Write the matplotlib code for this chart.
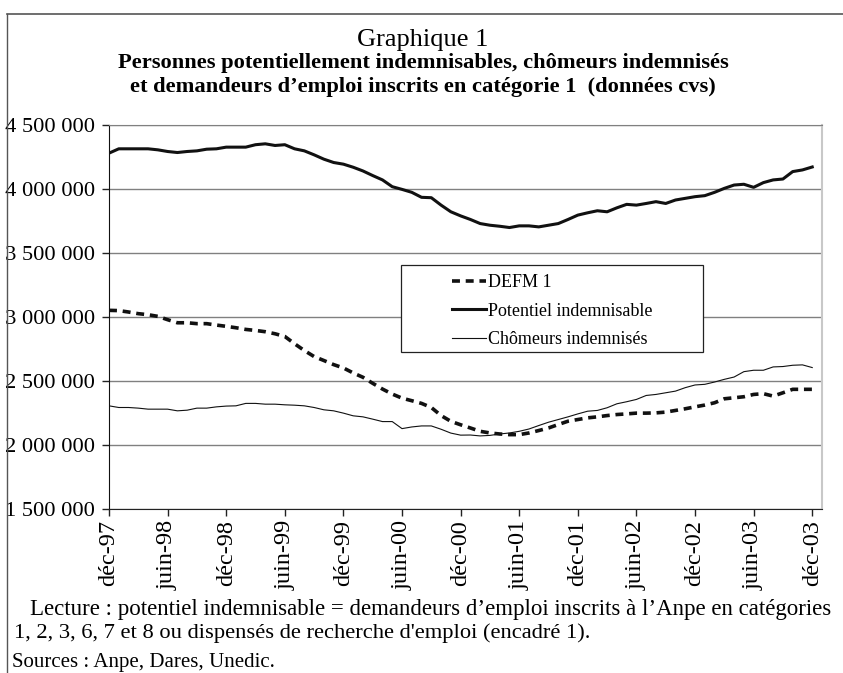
import matplotlib
matplotlib.use("Agg")
import matplotlib.pyplot as plt
from matplotlib.ticker import FuncFormatter
from matplotlib.lines import Line2D
from matplotlib.patches import Rectangle

plt.rcParams['font.family'] = ['Liberation Serif', 'DejaVu Serif']

# monthly data, dec 1997 -> dec 2003 (73 months)
potentiel = [4280000, 4314000, 4314000, 4314000, 4314000, 4306000, 4293000, 4285000, 4293000, 4298000,
             4311000, 4314000, 4327000, 4327000, 4327000, 4346000, 4353000, 4340000, 4346000, 4314000,
             4298000, 4267000, 4233000, 4207000, 4194000, 4170000, 4141000, 4105000, 4071000, 4018000,
             3997000, 3974000, 3935000, 3932000, 3874000, 3822000, 3790000, 3762000, 3730000, 3717000,
             3709000, 3699000, 3712000, 3712000, 3704000, 3717000, 3730000, 3762000, 3796000, 3814000,
             3830000, 3822000, 3853000, 3880000, 3874000, 3887000, 3901000, 3887000, 3914000, 3927000,
             3940000, 3948000, 3974000, 4005000, 4031000, 4037000, 4013000, 4050000, 4071000, 4078000,
             4136000, 4149000, 4172000]
defm1 = [3052000, 3050000, 3039000, 3026000, 3018000, 3005000, 2979000, 2955000, 2955000, 2948000,
         2948000, 2937000, 2927000, 2916000, 2903000, 2895000, 2885000, 2869000, 2848000, 2791000,
         2738000, 2691000, 2660000, 2628000, 2602000, 2563000, 2529000, 2482000, 2437000, 2398000,
         2366000, 2346000, 2325000, 2293000, 2230000, 2185000, 2158000, 2133000, 2107000, 2094000,
         2086000, 2081000, 2081000, 2094000, 2113000, 2133000, 2160000, 2186000, 2199000, 2212000,
         2220000, 2230000, 2238000, 2243000, 2249000, 2249000, 2251000, 2257000, 2270000, 2283000,
         2298000, 2312000, 2330000, 2361000, 2369000, 2377000, 2395000, 2401000, 2382000, 2408000,
         2435000, 2435000, 2435000]
chomeurs = [2306000, 2293000, 2293000, 2288000, 2280000, 2280000, 2280000, 2267000, 2272000, 2288000,
            2288000, 2298000, 2304000, 2306000, 2325000, 2325000, 2319000, 2319000, 2314000, 2311000,
            2306000, 2293000, 2275000, 2267000, 2249000, 2228000, 2220000, 2202000, 2183000, 2183000,
            2128000, 2141000, 2149000, 2149000, 2123000, 2093000, 2077000, 2078000, 2071000, 2075000,
            2086000, 2094000, 2107000, 2125000, 2152000, 2178000, 2199000, 2220000, 2243000, 2264000,
            2270000, 2291000, 2322000, 2338000, 2356000, 2387000, 2395000, 2408000, 2421000, 2448000,
            2469000, 2474000, 2492000, 2513000, 2531000, 2573000, 2584000, 2584000, 2610000, 2613000,
            2623000, 2626000, 2605000]
tick_labels = ['déc-97', 'juin-98', 'déc-98', 'juin-99', 'déc-99', 'juin-00', 'déc-00',
               'juin-01', 'déc-01', 'juin-02', 'déc-02', 'juin-03', 'déc-03']
months = list(range(len(potentiel)))

fig = plt.figure(figsize=(8.43, 6.73), dpi=100)
ax = fig.add_axes([109 / 843, 1 - 509 / 673, 713 / 843, 384 / 673])

ax.plot(months, defm1, color='#111111', lw=2.6, ls=(0, (2.2, 1.6)), label='DEFM 1', zorder=3)
ax.plot(months, potentiel, color='#111111', lw=2.2, label='Potentiel indemnisable', zorder=3)
ax.plot(months, chomeurs, color='#111111', lw=0.8, label='Chômeurs indemnisés', zorder=3)

ax.set_xlim(0, 73)
ax.set_ylim(1500000, 4500000)
ax.set_yticks(range(1500000, 4500001, 500000))
ax.yaxis.set_major_formatter(FuncFormatter(lambda v, p: f"{int(v):,}".replace(',', ' ')))
ax.set_xticks(range(0, 73, 6))
ax.set_xticklabels(tick_labels, rotation=90)
ax.tick_params(axis='both', length=5, width=1, color='#222222')
ax.tick_params(axis='x', pad=3, labelsize=17.5)
ax.tick_params(axis='y', pad=5, labelsize=16.2)
ax.grid(axis='y', color='#808080', lw=1)
ax.set_axisbelow(True)
ax.spines['left'].set_color('#111111')
ax.spines['bottom'].set_color('#222222')
ax.spines['top'].set_color('#808080')
ax.spines['right'].set_color('#c8c8c8')
ax.spines['right'].set_linewidth(1.5)

# legend box
box = Rectangle((401 / 843, 1 - 352 / 673), 302 / 843, 87 / 673, transform=fig.transFigure,
                facecolor='white', edgecolor='#222222', lw=0.9, zorder=4)
fig.add_artist(box)
leg = fig.legend(loc='upper left', bbox_to_anchor=(452 / 843, 1 - 274 / 673), frameon=False,
                 fontsize=13, handlelength=1.9, handletextpad=0.1, labelspacing=0.64, borderpad=0,
                 borderaxespad=0)
leg.set_zorder(5)

fig.text(0.502, 1 - 40 / 673, 'Graphique 1', ha='center', va='center', fontsize=19)
fig.text(0.502, 1 - 63 / 673, 'Personnes potentiellement indemnisables, chômeurs indemnisés',
         ha='center', va='center', fontsize=16.2, fontweight='bold')
fig.text(0.502, 1 - 87 / 673, 'et demandeurs d\u2019emploi inscrits en catégorie 1  (données cvs)',
         ha='center', va='center', fontsize=16.2, fontweight='bold')

fig.text(30 / 843, 1 - 610 / 673,
         'Lecture : potentiel indemnisable = demandeurs d\u2019emploi inscrits à l\u2019Anpe en catégories',
         ha='left', va='center', fontsize=16.5)
fig.text(14 / 843, 1 - 633 / 673,
         "1, 2, 3, 6, 7 et 8 ou dispensés de recherche d'emploi (encadré 1).",
         ha='left', va='center', fontsize=16.2)
fig.text(12 / 843, 1 - 662 / 673, 'Sources : Anpe, Dares, Unedic.', ha='left', va='center', fontsize=15)

# outer frame (top and left edges)
fig.add_artist(Line2D([7 / 843, 1], [1 - 14 / 673, 1 - 14 / 673], transform=fig.transFigure,
                      color='#555555', lw=1.2))
fig.add_artist(Line2D([7 / 843, 7 / 843], [0, 1 - 14 / 673], transform=fig.transFigure,
                      color='#555555', lw=1.0))

fig.savefig('out.png', dpi=100)
